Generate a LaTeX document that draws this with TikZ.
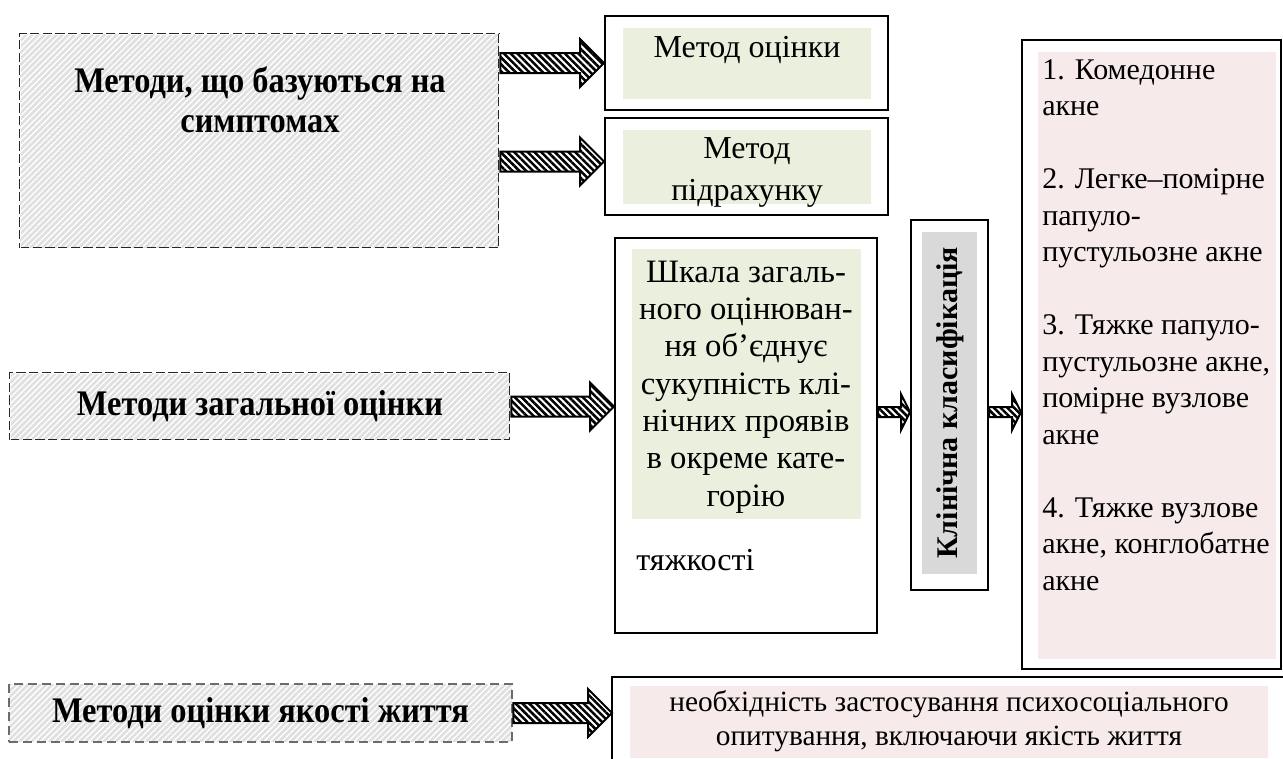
\documentclass[tikz,border=0pt]{standalone}
\usepackage{fontspec}
\setmainfont{Liberation Serif}
\newfontfamily\headfont[FakeStretch=0.9]{Liberation Serif}
\usetikzlibrary{patterns,patterns.meta,fit,calc}
\definecolor{lgreen}{RGB}{234,240,221}
\definecolor{lpink}{RGB}{246,234,234}
\definecolor{lgray}{RGB}{217,217,217}
\newcommand\hatcharrow[5]{%
  \path[hatcharr] let \p1=(#1), \p2=(#2) in
    (\x1,{\y1+#3*0.75pt}) -- ({\x2-#5*0.75pt},{\y1+#3*0.75pt}) -- ({\x2-#5*0.75pt},{\y1+#4*0.75pt})
    -- (\x2,\y1) -- ({\x2-#5*0.75pt},{\y1-#4*0.75pt}) -- ({\x2-#5*0.75pt},{\y1-#3*0.75pt})
    -- (\x1,{\y1-#3*0.75pt}) -- cycle;}
\begin{document}
\begin{tikzpicture}[x=0.75pt,y=-0.75pt,
  frame/.style={draw, line width=1.5pt, inner sep=0pt},
  boxhatch/.style={preaction={fill=gray!24}, preaction={pattern={Lines[angle=45, distance=3.2pt, line width=1pt]}, pattern color=white}},
  methA/.style={boxhatch, draw=black!85, dash pattern=on 7pt off 2.5pt, line width=2.2pt, inner sep=0pt,
     postaction={draw=white, line width=0.6pt, dash pattern=on 7pt off 2.5pt}},
  methB/.style={boxhatch, draw=gray!85!black, dash pattern=on 7pt off 3.5pt, line width=2.2pt, inner sep=0pt},
  hatcharr/.style={draw, line width=1.5pt, preaction={fill=white},
     preaction={pattern={Lines[angle=-45, distance=3.6pt, line width=1.9pt]}, pattern color=black}},
  txt/.style={font=\fontsize{24}{28}\selectfont, inner sep=0pt},
  rtxt/.style={font=\fontsize{22.5}{27}\selectfont, inner sep=0pt, anchor=west, text height=16pt, text depth=5pt},
  btxt/.style={font=\fontsize{22}{26}\selectfont, inner sep=0pt},
  head/.style={font=\fontsize{27}{30}\headfont\bfseries, inner sep=0pt, align=center}]
\useasboundingbox (0,0) rectangle (1283,758);
% left method boxes
\node[methA, fit={(20,34) (499,248)}] (b1) {};
\node[head] (b1t) at (260,100) {Методи, що базуються на\\симптомах};
\node[methA, fit={(10,373) (510,440)}] (b2) {};
\node[head] (b2t) at (b2.center) {Методи загальної оцінки};
\node[methB, fit={(9,684) (512,742)}] (b3) {};
\node[head] (b3t) at (b3.center) {Методи оцінки якості життя};
% method boxes top
\node[frame, fit={(605,16) (888,110)}] (m1) {};
\fill[lgreen] (623,28) rectangle (871,99);
\node[txt] (m1t) at (747,50) {Метод оцінки};
\node[frame, fit={(605,118) (888,215)}] (m2) {};
\fill[lgreen] (623,130) rectangle (871,204);
\node[txt, align=center, font=\fontsize{24}{31.5}\selectfont] (m2t) at (747,172) {Метод\\підрахунку};
% scale box
\node[frame, fit={(615,238) (877,633)}] (sk) {};
\fill[lgreen] (632,249) rectangle (861,519);
\node[txt, align=center, font=\fontsize{24.5}{28}\selectfont] (skt) at (746,387)
  {Шкала загаль-\\ного оцінюван-\\ня об’єднує\\сукупність клі-\\нічних проявів\\в окреме кате-\\горію};
\node[txt, anchor=west] (skt2) at (636,560) {тяжкості};
% clinical classification
\node[frame, fit={(911,220) (988,590)}] (kl) {};
\fill[lgray] (922,232) rectangle (977,574);
\node[font=\fontsize{22.5}{26}\selectfont\bfseries, inner sep=0pt, rotate=90] (klt) at (950,403) {Клінічна класифікація};
% right list box
\node[frame, fit={(1022,40) (1281,669)}] (rb) {};
\fill[lpink] (1038,52) rectangle (1276,659);
\foreach \i/\yy/\t in {1/72/{1. Комедонне}, 2/108.5/акне, 3/181.5/{2. Легке–помірне}, 4/218/папуло-,
   5/254.5/{пустульозне акне}, 6/327.5/{3. Тяжке папуло-}, 7/364/{пустульозне акне,},
   8/400.5/{помірне вузлове}, 9/437/акне, 10/510/{4. Тяжке вузлове}, 11/546.5/{акне, конглобатне}, 12/583/акне}
  \node[rtxt] (r\i) at (1042,\yy) {\t};
% bottom box (open at the bottom)
\coordinate (bbtl) at (612,677);
\coordinate (bbtr) at (1283,677);
\coordinate (bbbl) at (612,760);
\draw[line width=1.5pt] (bbtr) -- (bbtl) -- (bbbl);
\fill[lpink] (630,686) rectangle (1268,758);
\node[btxt] (bt1) at (949,704) {необхідність застосування психосоціального};
\node[btxt] (bt2) at (949,739) {опитування, включаючи якість життя};
% arrows
\coordinate (a2e) at ($(m2.west)+(0,-5)$);
\hatcharrow{b1.east |- m1.west}{m1.west}{10}{24}{24}
\hatcharrow{b1.east |- a2e}{a2e}{10}{24}{24}
\hatcharrow{b2.east}{sk.west |- b2.east}{10}{24}{24}
\coordinate (bbw) at (bbtl |- b3.east);
\hatcharrow{b3.east}{bbw}{10}{24}{24}
\coordinate (kA) at ($(kl.west)+(0,7)$);
\hatcharrow{sk.east |- kA}{kA}{5}{18}{9}
\hatcharrow{kl.east |- kA}{rb.west |- kA}{5}{18}{9}
\end{tikzpicture}
\end{document}
